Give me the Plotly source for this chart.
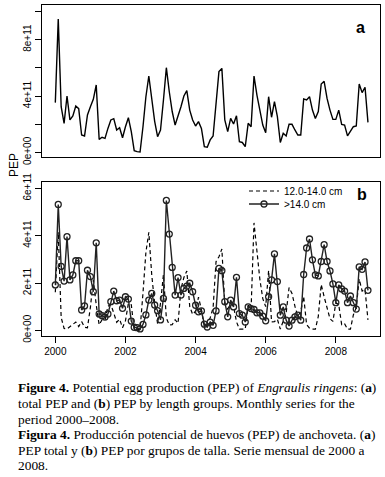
import numpy as np
import plotly.graph_objects as go

# ---------------- data (units of 1e11 eggs) ----------------
months = 2000 + np.arange(108) / 12.0   # Jan 2000 .. Dec 2008

pep_total = [3.53, 9.47, 3.24, 2.06, 4.00, 2.30, 2.58, 3.29, 3.10, 1.23, 1.16, 2.65,
             3.24, 3.76, 4.78, 0.92, 1.07, 0.99, 1.70, 2.30, 2.39, 1.59, 1.75, 1.04,
             1.82, 2.46, 1.47, 0.12, 0.05, 0.02, 1.82, 3.95, 5.42, 3.90, 2.20, 1.11,
             1.59, 3.70, 6.01, 4.30, 2.90, 1.94, 2.53, 3.24, 4.00, 4.38, 3.00, 2.30,
             1.87, 2.18, 1.70, 0.40, 0.36, 0.88, 1.16, 3.72, 5.73, 5.96, 2.30, 1.47,
             2.41, 2.01, 2.60, 0.75, 0.70, 0.40, 2.06, 1.82, 5.42, 4.07, 2.90, 1.94,
             1.40, 3.95, 2.49, 3.60, 2.53, 0.70, 1.35, 1.16, 1.99, 1.99, 1.59, 1.23,
             1.23, 3.79, 3.72, 3.95, 3.00, 2.40, 2.89, 4.85, 5.04, 3.83, 3.00, 2.34,
             2.34, 3.00, 1.99, 1.94, 1.17, 1.47, 1.82, 1.87, 4.85, 4.24, 4.62, 2.13]

pep_12_14 = [1.61, 4.15, 0.54, 0.08, 0.06, 0.17, 0.24, 0.35, 0.16, 0.37, 0.13, 0.11,
             0.97, 2.13, 1.08, 0.23, 0.45, 0.43, 1.01, 1.09, 0.73, 0.34, 0.47, 0.11,
             0.40, 1.14, 1.08, 0.03, 0.03, 0.03, 1.57, 3.30, 4.14, 2.34, 1.13, 0.28,
             1.15, 2.35, 0.52, 0.23, 0.24, 0.45, 0.30, 1.75, 2.23, 2.51, 1.01, 0.67,
             0.81, 1.40, 0.88, 0.14, 0.22, 0.53, 0.95, 2.90, 3.11, 3.44, 1.09, 0.90,
             1.13, 1.02, 0.36, 0.05, 0.05, 0.05, 1.07, 0.90, 4.54, 3.33, 2.16, 1.34,
             1.00, 2.53, 0.36, 0.37, 0.47, 0.05, 0.36, 0.73, 1.81, 1.56, 1.02, 0.59,
             0.80, 1.43, 0.24, 0.09, 0.05, 0.05, 0.59, 1.94, 1.42, 0.92, 0.49, 0.38,
             1.17, 1.08, 0.24, 0.28, 0.05, 0.05, 0.65, 0.97, 2.17, 1.66, 1.73, 0.44]

pep_gt14 = [1.92, 5.32, 2.70, 2.08, 3.96, 2.13, 2.34, 2.94, 2.94, 0.86, 1.03, 2.54,
            2.27, 1.63, 3.70, 0.69, 0.62, 0.56, 0.69, 1.21, 1.66, 1.25, 1.28, 0.93,
            1.42, 1.32, 0.39, 0.13, 0.11, 0.06, 0.25, 0.65, 1.28, 1.56, 1.07, 0.83,
            0.44, 1.35, 5.49, 4.07, 2.66, 1.49, 2.23, 1.49, 1.77, 1.87, 1.99, 1.63,
            1.06, 0.78, 0.82, 0.26, 0.14, 0.35, 0.21, 0.82, 2.62, 2.52, 1.21, 0.57,
            1.28, 0.99, 2.24, 0.71, 0.64, 0.35, 0.99, 0.92, 0.88, 0.74, 0.74, 0.60,
            0.40, 1.42, 2.13, 3.23, 2.06, 0.64, 0.99, 0.43, 0.18, 0.43, 0.57, 0.64,
            0.43, 2.36, 3.48, 3.86, 2.98, 2.34, 2.30, 2.91, 3.62, 2.91, 2.51, 1.96,
            1.17, 1.92, 1.75, 1.66, 1.17, 1.45, 1.17, 0.90, 2.68, 2.58, 2.89, 1.69]

scale = 1e11
ya_ticks = [0, 2, 4, 6, 8, 10]
ya_text = ["0e+00", "", "4e+11", "", "8e+11", ""]
yb_ticks = [0, 2, 4, 6]
yb_text = ["0e+00", "2e+11", "4e+11", "6e+11"]
x_ticks = [2000, 2002, 2004, 2006, 2008]
legend_names = ["12.0-14.0 cm", ">14.0 cm"]

W, H = 385, 477
def px(x):
    return x / W
def py(y):
    return 1 - y / H

fig = go.Figure()
fig.add_trace(go.Scatter(x=months, y=np.array(pep_total) * scale, mode="lines",
                         line=dict(color="black", width=1.4), showlegend=False,
                         xaxis="x", yaxis="y"))
fig.add_trace(go.Scatter(x=months, y=np.array(pep_12_14) * scale, mode="lines",
                         name=legend_names[0], legend="legend",
                         line=dict(color="black", width=1.2, dash="4px,3px"),
                         xaxis="x2", yaxis="y2"))
fig.add_trace(go.Scatter(x=months, y=np.array(pep_gt14) * scale, mode="lines+markers",
                         name=legend_names[1], legend="legend2",
                         line=dict(color="#222222", width=1.4),
                         marker=dict(symbol="circle-open", size=6, color="#222222",
                                     line=dict(width=1.3)),
                         xaxis="x2", yaxis="y2"))

axis_font = dict(family="Liberation Sans, Arial, sans-serif", size=10, color="black")
xr = [1999.62, 2009.26]
common = dict(showline=True, linecolor="black", linewidth=1, mirror=True,
              showgrid=False, zeroline=False, automargin=False)
leg_common = dict(xanchor="left", yanchor="middle", bgcolor="rgba(0,0,0,0)", borderwidth=0,
                  font=dict(family="Liberation Sans, Arial, sans-serif", size=10, color="black"),
                  itemwidth=30)

fig.update_layout(
    template="none",
    width=W, height=H,
    margin=dict(l=0, r=0, t=0, b=0, pad=0, autoexpand=False),
    paper_bgcolor="white", plot_bgcolor="white",
    font=axis_font,
    xaxis=dict(domain=[px(42), px(380)], range=xr, anchor="y",
               showticklabels=False, ticks="", **common),
    yaxis=dict(domain=[py(157), py(5)], range=[-0.33 * scale, 10.46 * scale],
               anchor="x", tickvals=[v * scale for v in ya_ticks], ticktext=ya_text,
               ticks="outside", ticklen=6, tickcolor="black", tickangle=-90,
               tickfont=axis_font, **common),
    xaxis2=dict(domain=[px(42), px(380)], range=xr, anchor="y2",
                tickvals=x_ticks, ticktext=[str(v) for v in x_ticks],
                ticks="outside", ticklen=6, tickcolor="black",
                tickfont=axis_font, **common),
    yaxis2=dict(domain=[py(336), py(182)], range=[-0.24 * scale, 6.27 * scale],
                anchor="x2", tickvals=[v * scale for v in yb_ticks], ticktext=yb_text,
                ticks="outside", ticklen=6, tickcolor="black", tickangle=-90,
                tickfont=axis_font, **common),
    showlegend=True,
    legend=dict(x=px(244), y=py(191), **leg_common),
    legend2=dict(x=px(244), y=py(204), **leg_common),
)

# panel letters, axis title
fig.add_annotation(x=px(367), y=py(17), xref="paper", yref="paper", text="<b>a</b>",
                   showarrow=False, font=dict(family="Liberation Sans, Arial", size=16, color="black"))
fig.add_annotation(x=px(369), y=py(194), xref="paper", yref="paper", text="<b>b</b>",
                   showarrow=False, font=dict(family="Liberation Sans, Arial", size=16, color="black"))
fig.add_annotation(x=px(5), y=py(165), xref="paper", yref="paper", text="PEP",
                   textangle=-90, showarrow=False,
                   font=dict(family="Liberation Sans, Arial", size=12, color="black"))

# caption
cap_font = dict(family="Liberation Serif, Times New Roman, serif", size=13.4, color="black")
caption = [
    "<b>Figure 4.</b> Potential egg production (PEP) of <i>Engraulis ringens</i>: (<b>a</b>)",
    "total PEP and (<b>b</b>) PEP by length groups. Monthly series for the",
    "period 2000–2008.",
    "<b>Figura 4.</b> Producción potencial de huevos (PEP) de anchoveta. (<b>a</b>)",
    "PEP total y (<b>b</b>) PEP por grupos de talla. Serie mensual de 2000 a",
    "2008.",
]
cap_y = [387, 403, 419, 434, 450, 465]
for t, yy in zip(caption, cap_y):
    fig.add_annotation(x=px(16), y=py(yy), xref="paper", yref="paper", text=t,
                       xanchor="left", yanchor="middle", showarrow=False, font=cap_font)

fig.write_html("out.html", config={"displayModeBar": False},
               post_script="document.body.style.margin='0px';document.body.style.overflow='hidden';")
